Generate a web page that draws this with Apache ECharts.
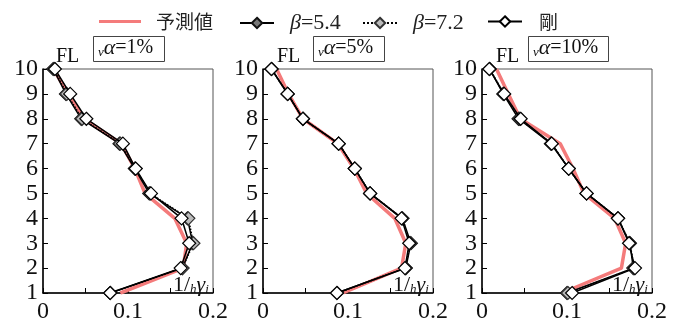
<!DOCTYPE html>
<html><head><meta charset="utf-8">
<script src="https://cdn.jsdelivr.net/npm/echarts@6/dist/echarts.min.js"></script>
<style>html,body{margin:0;padding:0;background:#fff}#c{width:682px;height:324px}</style>
</head><body><div id="c"></div>
<script>
const floors = [1,2,3,4,5,6,7,8,9,10];
const xTicks = ['0','0.1','0.2'];
const panelTitles = ['1%','5%','10%'];
// panel 1 (vα=1%)
const p1Pred  = [0.091,0.165,0.169,0.155,0.120,0.108,0.092,0.048,0.030,0.012];
const p1B54   = [0.079,0.164,0.176,0.170,0.125,0.108,0.090,0.045,0.027,0.012];
const p1B72   = [0.079,0.164,0.177,0.171,0.126,0.109,0.091,0.046,0.028,0.013];
const p1Rigid = [0.079,0.162,0.172,0.163,0.127,0.109,0.094,0.051,0.032,0.014];
// panel 2 (vα=5%)
const p2Pred  = [0.094,0.163,0.168,0.155,0.122,0.107,0.088,0.047,0.030,0.016];
const p2B54   = [0.087,0.168,0.174,0.164,0.126,0.108,0.089,0.047,0.029,0.010];
const p2B72   = [0.087,0.168,0.173,0.164,0.126,0.108,0.089,0.047,0.029,0.010];
const p2Rigid = [0.087,0.167,0.172,0.163,0.126,0.108,0.089,0.047,0.029,0.010];
// panel 3 (vα=10%)
const p3Pred  = [0.094,0.164,0.169,0.156,0.120,0.107,0.092,0.045,0.031,0.017];
const p3B54   = [0.100,0.178,0.174,0.160,0.123,0.102,0.081,0.043,0.025,0.009];
const p3B72   = [0.101,0.179,0.174,0.160,0.123,0.102,0.082,0.044,0.026,0.009];
const p3Rigid = [0.106,0.180,0.173,0.160,0.123,0.102,0.082,0.0455,0.026,0.0086];

const names = ['予測値','β=5.4','β=7.2','剛'];
const panels = [[p1Pred,p1B54,p1B72,p1Rigid],[p2Pred,p2B54,p2B72,p2Rigid],[p3Pred,p3B54,p3B72,p3Rigid]];
const lefts = [43,263,482];
const serif = 'Liberation Serif';
const cjk = 'Noto Sans CJK JP';

const grids=[],xAxes=[],yAxes=[],series=[],graphics=[];
lefts.forEach((l,i)=>{
  grids.push({left:l,top:69,width:170,height:227,show:true,borderColor:'#555',borderWidth:1,containLabel:false});
  xAxes.push({type:'value',gridIndex:i,min:0,max:0.2,interval:0.05,
    axisLine:{show:true,lineStyle:{color:'#000',width:1.5}},
    axisTick:{show:true,inside:true,length:5,lineStyle:{color:'#000'}},
    splitLine:{show:false},
    axisLabel:{show:true,color:'#111',fontFamily:serif,fontSize:24,margin:7,hideOverlap:false,
      formatter:function(v){const k=Math.round(v*20); return k%2===0?xTicks[k/2]:'';}}});
  yAxes.push({type:'value',gridIndex:i,min:1,max:10,interval:1,
    axisLine:{show:true,lineStyle:{color:'#000',width:1.5}},
    axisTick:{show:true,inside:true,length:5,lineStyle:{color:'#000'}},
    splitLine:{show:false},
    axisLabel:{show:true,color:'#111',fontFamily:serif,fontSize:24,margin:5,hideOverlap:false,
      formatter:function(v){return String(v);}}});
  const d = panels[i];
  const mk = arr => arr.map((v,j)=>[v,floors[j]]);
  series.push({name:names[0],type:'line',xAxisIndex:i,yAxisIndex:i,data:mk(d[0]),symbol:'none',
    lineStyle:{color:'#f47b7b',width:3.5},itemStyle:{color:'#f47b7b'},z:1,silent:true});
  series.push({name:names[1],type:'line',xAxisIndex:i,yAxisIndex:i,data:mk(d[1]),symbol:'diamond',symbolSize:13,
    lineStyle:{color:'#000',width:1.5},itemStyle:{color:'#777',borderColor:'#111',borderWidth:1.2},z:2});
  series.push({name:names[2],type:'line',xAxisIndex:i,yAxisIndex:i,data:mk(d[2]),symbol:'diamond',symbolSize:13,
    lineStyle:{color:'#000',width:1.5,type:'dotted'},itemStyle:{color:'#bbb',borderColor:'#333',borderWidth:1.2},z:3});
  series.push({name:names[3],type:'line',xAxisIndex:i,yAxisIndex:i,data:mk(d[3]),symbol:'diamond',symbolSize:13,
    lineStyle:{color:'#000',width:1.5},itemStyle:{color:'#fff',borderColor:'#000',borderWidth:1.2},z:4});
});

const flX=[56,277,496], boxX=[93,313,528], boxW=[71,71,80];
for(let i=0;i<3;i++){
  graphics.push({type:'text',left:flX[i],top:47,z:10,style:{text:'FL',fontFamily:serif,fontSize:20,fill:'#111'}});
  graphics.push({type:'rect',left:boxX[i],top:36,z:10,shape:{width:boxW[i],height:25},style:{fill:'#fff',stroke:'#444',lineWidth:1}});
  graphics.push({type:'text',left:boxX[i]+5,top:37,z:11,style:{
    text:'{s|ν}{i|α}{n|='+panelTitles[i]+'}',
    rich:{s:{fontFamily:serif,fontStyle:'italic',fontSize:13,verticalAlign:'bottom',lineHeight:22,padding:[9,0,0,0]},
          i:{fontFamily:serif,fontStyle:'italic',fontSize:22,lineHeight:22},
          n:{fontFamily:serif,fontSize:20,lineHeight:22}},fill:'#111'}});
  graphics.push({type:'text',left:lefts[i]+130,top:274,z:10,style:{
    text:'{n|1/}{s|h}{i|γ}{s|i}',
    rich:{n:{fontFamily:serif,fontSize:22,lineHeight:22},
          s:{fontFamily:serif,fontStyle:'italic',fontSize:13,lineHeight:22,verticalAlign:'bottom',padding:[8,0,0,0]},
          i:{fontFamily:serif,fontStyle:'italic',fontSize:22,lineHeight:22}},fill:'#111'}});
}

const legendLeft=[99,239,362,487], legendIconW=[42,34,34,34], legendPad=[10,11,11,12];
const legends = names.map((n,k)=>({data:[k===0?{name:n,icon:'rect',itemStyle:{color:'#f47b7b'}}:{name:n}],
  left:legendLeft[k],top:12,padding:0,itemWidth:legendIconW[k],itemHeight:k===0?3:13,
  selectedMode:false,
  textStyle:{fontSize:19,color:'#222',padding:[0,0,0,legendPad[k]],
    rich:{b:{fontFamily:serif,fontStyle:'italic',fontSize:22,color:'#222'},t:{fontFamily:serif,fontSize:22,color:'#222'},
          c:{fontFamily:cjk,fontSize:19,color:'#222'}}},
  formatter:nm=> nm.startsWith('β') ? '{b|β}{t|'+nm.slice(1)+'}' : '{c|'+nm+'}'}));

const chart = echarts.init(document.getElementById('c'),null,{renderer:'canvas'});
chart.setOption({animation:false,textStyle:{fontFamily:serif},grid:grids,xAxis:xAxes,yAxis:yAxes,series:series,legend:legends,graphic:graphics});
</script></body></html>
